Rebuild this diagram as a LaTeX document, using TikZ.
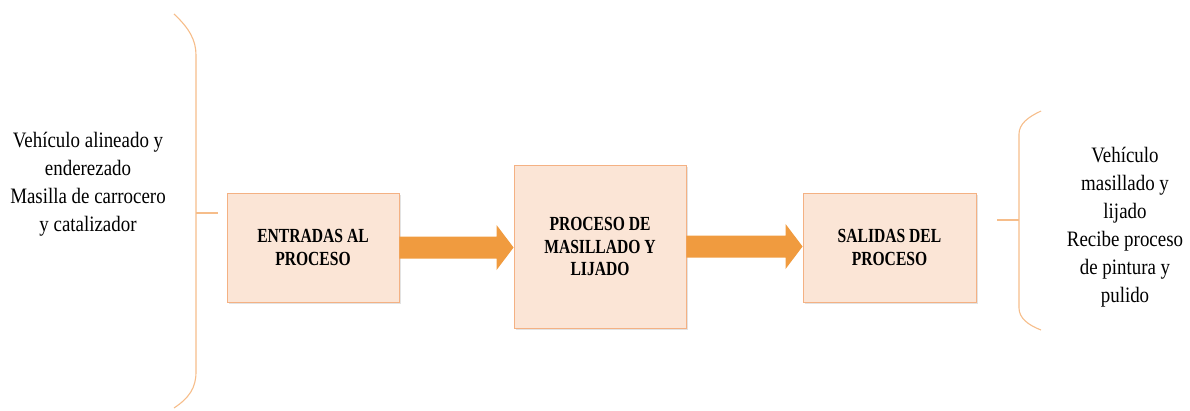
\documentclass[tikz,border=0pt]{standalone}
\usepackage{fontspec}
\setmainfont{Liberation Serif}
\newfontfamily\listfont{Liberation Serif}[FakeStretch=0.86]
\newfontfamily\stagefont{Liberation Serif}[FakeStretch=0.78]
\usetikzlibrary{calc,shadows}
\definecolor{boxfill}{HTML}{FBE5D6}
\definecolor{boxline}{HTML}{F4B183}
\definecolor{arrowcol}{HTML}{F09B3F}
\definecolor{bracecol}{HTML}{F6BD8A}
\tikzset{
  stagebox/.style={draw=boxline, line width=0.9pt, fill=boxfill, align=center,
    inner sep=0pt, font=\stagefont\fontsize{20}{22.5}\selectfont\bfseries,
    drop shadow={opacity=0.22, shadow xshift=1.6pt, shadow yshift=-1.6pt}},
  brace/.style={draw=bracecol, line width=1.1pt},
  listtext/.style={align=center, font=\listfont\fontsize{22}{28}\selectfont},
}
\begin{document}
\begin{tikzpicture}[x=1pt,y=-1pt]
\useasboundingbox (0,0) rectangle (1190,410);

% stages
\node[stagebox, minimum width=172pt, minimum height=109pt] (in) at (313,247.5) {ENTRADAS AL\\PROCESO};
\node[stagebox, minimum width=172pt, minimum height=163pt] (proc) at (600,246.5) {PROCESO DE\\MASILLADO Y\\LIJADO};
\node[stagebox, minimum width=173pt, minimum height=109pt] (out) at (889.5,247.5) {SALIDAS DEL\\PROCESO};

% block arrows between the stages, kept level with the source box
\foreach \a/\b in {in/proc, proc/out}{
  \coordinate (tip) at (\b.west |- \a.east);
  \fill[arrowcol] ($(\a.east)+(0,-11)$) -- ($(tip)+(-17,-11)$) -- ($(tip)+(-17,-22.5)$)
    -- (tip) -- ($(tip)+(-17,22.5)$) -- ($(tip)+(-17,11)$) -- ($(\a.east)+(0,11)$) -- cycle;
}

% input brace and list
\draw[brace] (174,14) .. controls (189,28) and (196,40) .. (196,55) -- (196,372)
  .. controls (196,388) and (189,398) .. (174,408);
\coordinate (lt) at (196,213);
\draw[brace] (lt) -- ++(22,0);
\node[listtext] (inputs) at (88,184) {Vehículo alineado y\\enderezado\\Masilla de carrocero\\y catalizador};

% output brace and list
\draw[brace] (1041,111) .. controls (1028,117) and (1019,124) .. (1019,134) -- (1019,308)
  .. controls (1019,318) and (1028,325) .. (1041,330);
\coordinate (rt) at (1019,220);
\draw[brace] (rt) -- ++(-22,0);
\node[listtext] (outputs) at (1125,227) {Vehículo\\masillado y\\lijado\\Recibe proceso\\de pintura y\\pulido};
\end{tikzpicture}
\end{document}
